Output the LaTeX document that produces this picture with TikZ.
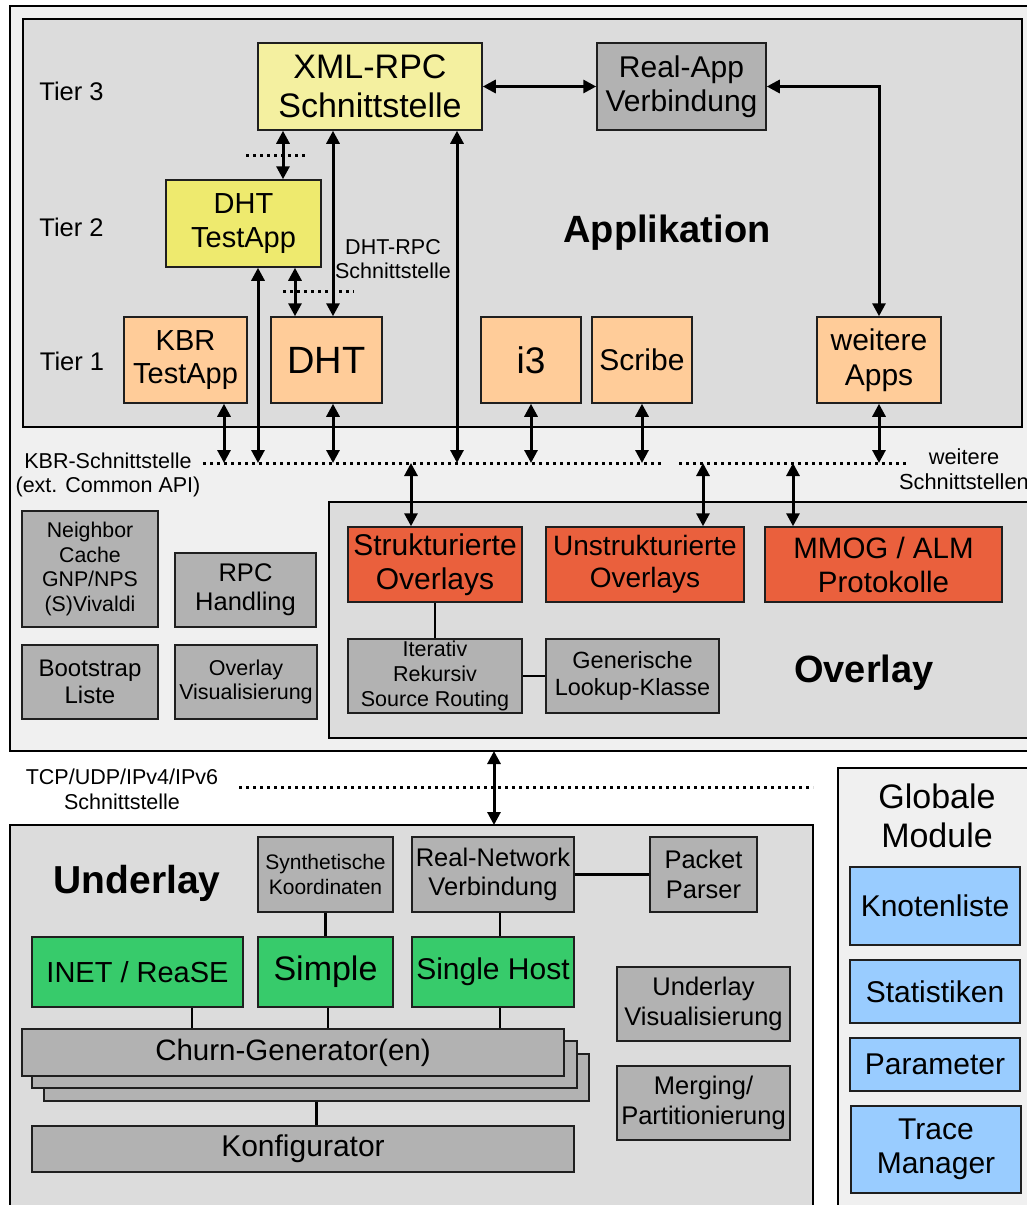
\documentclass[tikz,border=0pt]{standalone}
\usepackage{fontspec}
\setmainfont{Liberation Sans}
\usetikzlibrary{arrows.meta}
\definecolor{outerbg}{HTML}{F0F0F0}
\definecolor{regionbg}{HTML}{DCDCDC}
\definecolor{modgrey}{HTML}{B2B2B2}
\definecolor{paleyellow}{HTML}{F4F0A0}
\definecolor{yellowmod}{HTML}{EEEA6E}
\definecolor{peach}{HTML}{FFCC99}
\definecolor{overlayred}{HTML}{EA603D}
\definecolor{underlaygreen}{HTML}{37CB6B}
\definecolor{globalblue}{HTML}{99CCFF}
\newcommand{\fz}[1]{\fontsize{#1}{\fpeval{#1*1.15}}\selectfont}
\begin{document}
\begin{tikzpicture}[x=1pt,y=-1pt,
  region/.style={draw=black,line width=1.8pt,inner sep=0pt,outer sep=0pt},
  mod/.style={draw=black!88,line width=1.5pt,inner sep=0pt,align=center},
  greymod/.style={mod,fill=modgrey},
  peachmod/.style={mod,fill=peach},
  redmod/.style={mod,fill=overlayred},
  greenmod/.style={mod,fill=underlaygreen},
  bluemod/.style={mod,fill=globalblue},
  biarrow/.style={line width=3pt,{Triangle[length=13pt,width=13pt]}-{Triangle[length=13pt,width=13pt]}},
  link/.style={line width=2.3pt},
  dotline/.style={line width=3pt,dash pattern=on 3.3pt off 3.7pt},
  lbl/.style={inner sep=0pt,align=center}]
\useasboundingbox (0,0) rectangle (1027,1205);
\clip (0,0) rectangle (1027,1205);
\fill[white] (0,0) rectangle (1027,1205);

% layer regions
\node[region,fill=outerbg,minimum width=1040,minimum height=745] (outer) at (530,378.5) {};
\node[region,fill=regionbg,minimum width=999,minimum height=408] (app) at (522.5,223) {};
\node[region,fill=regionbg,minimum width=721,minimum height=236] (overlay) at (689.5,620) {};
\node[region,fill=regionbg,minimum width=803,minimum height=400] (underlay) at (411.5,1025) {};
\node[region,fill=outerbg,minimum width=212,minimum height=457] (global) at (944,996.5) {};

% x positions of vertical connectors and interface lines
\coordinate (x192) at (192,0);
\coordinate (x224) at (224,0);
\coordinate (x258) at (258,0);
\coordinate (x283) at (283,0);
\coordinate (x295) at (295,0);
\coordinate (x328) at (328,0);
\coordinate (x333) at (333,0);
\coordinate (x411) at (411,0);
\coordinate (x457) at (457,0);
\coordinate (x494) at (494,0);
\coordinate (x500) at (500,0);
\coordinate (x703) at (703,0);
\coordinate (x793) at (793,0);
\coordinate (kbrline) at (0,463);

% application layer
\node[lbl,font=\fz{25.5},anchor=base] (t3) at (71.5,100) {Tier 3};
\node[lbl,font=\fz{25.5},anchor=base] (t2) at (71.5,236) {Tier 2};
\node[lbl,font=\fz{25.5},anchor=base] (t1) at (72,370) {Tier 1};
\node[mod,fill=paleyellow,minimum width=224,minimum height=87,font=\fz{34}] (xml) at (370,86.5) {XML-RPC\\Schnittstelle};
\node[greymod,minimum width=169,minimum height=87,font=\fz{30}] (realapp) at (681.5,86.5) {Real-App\\Verbindung};
\node[mod,fill=yellowmod,minimum width=155,minimum height=87,font=\fz{29}] (dhttest) at (243.5,223.5) {DHT\\TestApp};
\node[peachmod,minimum width=123,minimum height=86,font=\fz{29}] (kbr) at (185.5,360) {KBR\\TestApp};
\node[peachmod,minimum width=111,minimum height=86,font=\fz{38}] (dht) at (326.5,360) {DHT};
\node[peachmod,minimum width=100,minimum height=86,font=\fz{37}] (i3) at (531,360) {i3};
\node[peachmod,minimum width=100,minimum height=86,font=\fz{30}] (scribe) at (642,360) {Scribe};
\node[peachmod,minimum width=124,minimum height=86,font=\fz{30}] (weitere) at (879,360) {weitere\\Apps};
\node[lbl,font=\fz{38}\bfseries,anchor=base] (applbl) at (667,242) {Applikation};
\node[lbl,font=\fz{21.5}] (dhtrpc) at (393,259) {DHT-RPC\\Schnittstelle};

% interfaces inside the application layer
\coordinate (d1a) at (246,155);
\coordinate (d1b) at (306,155);
\coordinate (d2a) at (283,291);
\coordinate (d2b) at (354,291);
\draw[dotline] (d1a) -- (d1b);
\draw[dotline] (d2a) -- (d2b);

\draw[biarrow] (xml.east) -- (realapp.west);
\draw[biarrow] (realapp.east) -| (weitere.north);
\draw[biarrow] (xml.south -| x283) -- (dhttest.north -| x283);
\draw[biarrow] (xml.south -| x333) -- (dht.north -| x333);
\draw[biarrow] (dhttest.south -| x295) -- (dht.north -| x295);

% KBR interface
\coordinate (k1a) at (203,463);
\coordinate (k1b) at (663,463);
\coordinate (k2a) at (679,463);
\coordinate (k2b) at (907,463);
\draw[dotline] (k1a) -- (k1b);
\draw[dotline] (k2a) -- (k2b);
\node[lbl,font=\fz{21.5}] (kbrlbl) at (108,475) {KBR-Schnittstelle\\(ext. Common API)};
\node[lbl,font=\fz{21.8}] (morelbl) at (964,469) {weitere\\Schnittstellen};

\draw[biarrow] (xml.south -| x457) -- (x457 |- kbrline);
\draw[biarrow] (dhttest.south -| x258) -- (x258 |- kbrline);
\draw[biarrow] (kbr.south -| x224) -- (x224 |- kbrline);
\draw[biarrow] (dht.south -| x333) -- (x333 |- kbrline);
\draw[biarrow] (i3.south) -- (i3.south |- kbrline);
\draw[biarrow] (scribe.south) -- (scribe.south |- kbrline);
\draw[biarrow] (weitere.south) -- (weitere.south |- kbrline);

% common services
\node[greymod,minimum width=136,minimum height=116,font=\fz{21.3}] (neighbor) at (90,569) {Neighbor\\Cache\\GNP/NPS\\(S)Vivaldi};
\node[greymod,minimum width=141,minimum height=74,font=\fz{25.5}] (rpc) at (245.5,590) {RPC\\Handling};
\node[greymod,minimum width=136,minimum height=74,font=\fz{24}] (bootstrap) at (90,682) {Bootstrap\\Liste};
\node[greymod,minimum width=142,minimum height=74,font=\fz{21.5}] (ovis) at (246,682) {Overlay\\Visualisierung};

% overlay layer
\node[redmod,minimum width=174,minimum height=75,font=\fz{30}] (struk) at (435,564.5) {Strukturierte\\Overlays};
\node[redmod,minimum width=198,minimum height=75,font=\fz{28}] (unstruk) at (645,564.5) {Unstrukturierte\\Overlays};
\node[redmod,minimum width=237,minimum height=75,font=\fz{29.5}] (mmog) at (883.5,564.5) {MMOG / ALM\\Protokolle};
\node[greymod,minimum width=174,minimum height=74,font=\fz{21.5}] (iter) at (435,676) {Iterativ\\Rekursiv\\Source Routing};
\node[greymod,minimum width=173,minimum height=74,font=\fz{23.5}] (generic) at (632.5,676) {Generische\\Lookup-Klasse};
\node[lbl,font=\fz{38}\bfseries,anchor=base] (ovlbl) at (864,682) {Overlay};

\draw[biarrow] (x411 |- kbrline) -- (struk.north -| x411);
\draw[biarrow] (x703 |- kbrline) -- (unstruk.north -| x703);
\draw[biarrow] (x793 |- kbrline) -- (mmog.north -| x793);
\draw[link] (struk.south) -- (iter.north);
\draw[link] (iter.east) -- (generic.west);

% transport interface
\coordinate (ta) at (239,787);
\coordinate (tb) at (813,787);
\draw[dotline] (ta) -- (tb);
\node[lbl,font=\fz{21.5}] (tcplbl) at (122,789) {TCP/UDP/IPv4/IPv6\\Schnittstelle};
\draw[biarrow] (outer.south -| x494) -- (underlay.north -| x494);

% underlay layer
\node[lbl,font=\fz{39}\bfseries,anchor=base] (ullbl) at (137,893) {Underlay};
\node[greymod,minimum width=135,minimum height=75,font=\fz{21}] (synth) at (325.5,874.5) {Synthetische\\Koordinaten};
\node[greymod,minimum width=162,minimum height=75,font=\fz{25.5}] (realnet) at (493,874.5) {Real-Network\\Verbindung};
\node[greymod,minimum width=107,minimum height=75,font=\fz{25.5}] (packet) at (703.5,874.5) {Packet\\Parser};
\node[greenmod,minimum width=211,minimum height=70,font=\fz{29}] (inet) at (137.5,972) {INET / ReaSE};
\node[greenmod,minimum width=135,minimum height=70,font=\fz{34}] (simple) at (325.5,972) {Simple};
\node[greenmod,minimum width=162,minimum height=70,font=\fz{30}] (single) at (493,972) {Single Host};
\node[greymod,minimum width=545,minimum height=47] (churnC) at (316.5,1077.5) {};
\node[greymod,minimum width=545,minimum height=47] (churnB) at (304.5,1064.5) {};
\node[greymod,minimum width=542,minimum height=47,font=\fz{29.5}] (churn) at (293,1052.5) {Churn-Generator(en)};
\node[greymod,minimum width=542,minimum height=46,font=\fz{30}] (konfig) at (303,1149) {Konfigurator};
\node[greymod,minimum width=173,minimum height=74,font=\fz{25.5}] (uvis) at (703.5,1004) {Underlay\\Visualisierung};
\node[greymod,minimum width=173,minimum height=74,font=\fz{25.5}] (merging) at (703.5,1103) {Merging/\\Partitionierung};

\draw[link] (synth.south) -- (simple.north);
\draw[link] (realnet.south -| x500) -- (single.north -| x500);
\draw[link] (realnet.east) -- (packet.west);
\draw[link] (inet.south -| x192) -- (churn.north -| x192);
\draw[link] (simple.south -| x328) -- (churn.north -| x328);
\draw[link] (single.south -| x500) -- (churn.north -| x500);
\draw[link] (churnC.south) -- (konfig.north -| churnC.south);

% global modules
\node[lbl,font=\fz{34}] (globlbl) at (937,816) {Globale\\Module};
\node[bluemod,minimum width=170,minimum height=78,font=\fz{30}] (knoten) at (935,906) {Knotenliste};
\node[bluemod,minimum width=170,minimum height=63,font=\fz{30}] (stat) at (935,991.5) {Statistiken};
\node[bluemod,minimum width=170,minimum height=53,font=\fz{30}] (param) at (935,1064.5) {Parameter};
\node[bluemod,minimum width=170,minimum height=87,font=\fz{30}] (trace) at (936,1149.5) {Trace\\Manager};
\end{tikzpicture}
\end{document}
